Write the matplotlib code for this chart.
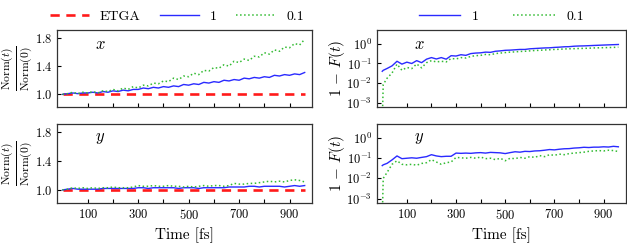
import numpy as np
import matplotlib
matplotlib.use('Agg')
import matplotlib.pyplot as plt
from matplotlib.ticker import FixedLocator, NullLocator

plt.rcParams['font.family'] = 'serif'
plt.rcParams['font.serif'] = ['cmr10', 'DejaVu Serif']
plt.rcParams['mathtext.fontset'] = 'cm'
plt.rcParams['axes.unicode_minus'] = False
plt.rcParams['axes.formatter.use_mathtext'] = True

# time grids [fs]
t = np.arange(0, 980, 20)
t_fid = np.concatenate([[0, 4], np.arange(20, 980, 20)])

# norm ratio, x polarisation
etga_x = [1.0] * len(t)
norm_x_1 = [1.00, 1.01, 1.02, 1.01, 1.02, 1.02, 1.03, 1.02, 1.04, 1.03,
            1.05, 1.04, 1.06, 1.05, 1.07, 1.07, 1.09, 1.08, 1.10, 1.09,
            1.11, 1.10, 1.12, 1.11, 1.14, 1.13, 1.15, 1.14, 1.17, 1.16,
            1.18, 1.17, 1.20, 1.19, 1.21, 1.20, 1.23, 1.22, 1.24, 1.23,
            1.25, 1.24, 1.27, 1.26, 1.28, 1.27, 1.29, 1.28, 1.31]
norm_x_01 = [1.00, 1.01, 1.03, 1.01, 1.03, 1.02, 1.04, 1.02, 1.05, 1.04,
             1.07, 1.05, 1.09, 1.07, 1.11, 1.09, 1.13, 1.12, 1.16, 1.15,
             1.19, 1.18, 1.23, 1.21, 1.26, 1.25, 1.30, 1.28, 1.34, 1.33,
             1.38, 1.37, 1.42, 1.40, 1.47, 1.45, 1.50, 1.48, 1.54, 1.53,
             1.59, 1.57, 1.63, 1.61, 1.67, 1.66, 1.72, 1.70, 1.78]

# norm ratio, y polarisation
etga_y = [1.0] * len(t)
norm_y_1 = [1.00, 1.01, 1.02, 1.01, 1.01, 1.01, 1.01, 1.01, 1.02, 1.02,
            1.02, 1.02, 1.02, 1.02, 1.02, 1.03, 1.03, 1.02, 1.03, 1.03,
            1.03, 1.03, 1.03, 1.02, 1.03, 1.03, 1.03, 1.02, 1.03, 1.03,
            1.03, 1.03, 1.03, 1.04, 1.04, 1.04, 1.04, 1.05, 1.05, 1.04,
            1.05, 1.05, 1.05, 1.05, 1.04, 1.05, 1.06, 1.05, 1.06]
norm_y_01 = [1.00, 1.01, 1.03, 1.02, 1.03, 1.02, 1.03, 1.02, 1.03, 1.03,
             1.04, 1.03, 1.03, 1.03, 1.04, 1.06, 1.05, 1.05, 1.06, 1.05,
             1.05, 1.06, 1.05, 1.05, 1.04, 1.05, 1.04, 1.05, 1.06, 1.05,
             1.06, 1.06, 1.05, 1.06, 1.09, 1.08, 1.08, 1.09, 1.09, 1.10,
             1.11, 1.12, 1.11, 1.12, 1.11, 1.13, 1.14, 1.13, 1.11]

# infidelity 1 - F(t)
inf_x_1 = [0.040, 0.045, 0.056, 0.076, 0.13, 0.093, 0.117, 0.10, 0.14, 0.11,
           0.166, 0.20, 0.17, 0.20, 0.166, 0.25, 0.24, 0.28, 0.26, 0.32,
           0.34, 0.35, 0.38, 0.37, 0.42, 0.44, 0.47, 0.48, 0.50, 0.52,
           0.52, 0.56, 0.58, 0.60, 0.62, 0.63, 0.66, 0.68, 0.71, 0.72,
           0.76, 0.78, 0.79, 0.81, 0.83, 0.85, 0.87, 0.89, 0.91, 0.93]
inf_x_01 = [1e-4, 0.0085, 0.018, 0.033, 0.093, 0.045, 0.063, 0.055, 0.095, 0.06,
            0.11, 0.14, 0.12, 0.13, 0.12, 0.18, 0.17, 0.20, 0.19, 0.23,
            0.25, 0.26, 0.29, 0.28, 0.32, 0.34, 0.36, 0.38, 0.39, 0.41,
            0.42, 0.44, 0.46, 0.47, 0.49, 0.50, 0.52, 0.53, 0.55, 0.56,
            0.57, 0.58, 0.59, 0.60, 0.62, 0.63, 0.64, 0.65, 0.66, 0.68]
inf_y_1 = [0.043, 0.047, 0.056, 0.083, 0.13, 0.095, 0.10, 0.105, 0.10, 0.11,
           0.12, 0.15, 0.13, 0.12, 0.125, 0.125, 0.18, 0.175, 0.18, 0.175,
           0.185, 0.19, 0.18, 0.195, 0.19, 0.185, 0.17, 0.19, 0.21, 0.20,
           0.22, 0.215, 0.23, 0.235, 0.25, 0.27, 0.26, 0.28, 0.295, 0.30,
           0.32, 0.33, 0.35, 0.34, 0.355, 0.355, 0.37, 0.36, 0.39, 0.37]
inf_y_01 = [1e-4, 0.01, 0.02, 0.05, 0.075, 0.05, 0.047, 0.05, 0.045, 0.055,
            0.06, 0.085, 0.065, 0.05, 0.06, 0.065, 0.11, 0.105, 0.10, 0.11,
            0.10, 0.115, 0.095, 0.10, 0.085, 0.10, 0.075, 0.10, 0.095, 0.11,
            0.10, 0.12, 0.11, 0.135, 0.12, 0.15, 0.14, 0.16, 0.15, 0.17,
            0.18, 0.19, 0.20, 0.22, 0.23, 0.24, 0.23, 0.25, 0.24, 0.215]

red = '#ff1a1a'
blue = '#2a2aff'
green = '#33bb33'

fig = plt.figure(figsize=(6.27, 2.49), dpi=100)
ax_lt = fig.add_axes([0.091, 0.570, 0.407, 0.309])
ax_lb = fig.add_axes([0.091, 0.185, 0.407, 0.317])
ax_rt = fig.add_axes([0.601, 0.570, 0.397, 0.309])
ax_rb = fig.add_axes([0.601, 0.185, 0.397, 0.317])

ax_lt.plot(t, etga_x, color=red, ls=(0, (3.5, 2.5)), lw=1.9, label='ETGA')
ax_lt.plot(t, norm_x_1, color=blue, lw=1.0, label='1')
ax_lt.plot(t, norm_x_01, color=green, ls=':', lw=1.1, label='0.1')
ax_lb.plot(t, etga_y, color=red, ls=(0, (3.5, 2.5)), lw=1.9)
ax_lb.plot(t, norm_y_1, color=blue, lw=1.0)
ax_lb.plot(t, norm_y_01, color=green, ls=':', lw=1.1)

ax_rt.plot(t_fid, inf_x_1, color=blue, lw=1.0, label='1')
ax_rt.plot(t_fid, inf_x_01, color=green, ls=':', lw=1.1, label='0.1')
ax_rb.plot(t_fid, inf_y_1, color=blue, lw=1.0)
ax_rb.plot(t_fid, inf_y_01, color=green, ls=':', lw=1.1)

for ax in (ax_lt, ax_lb):
    ax.set_ylim(0.82, 1.91)
    ax.set_yticks([1.0, 1.4, 1.8])
    ax.set_ylabel(r'$\frac{\mathrm{Norm}(t)}{\mathrm{Norm}(0)}$', fontsize=12)
    ax.yaxis.set_label_coords(-0.085, 0.5)

for ax in (ax_rt, ax_rb):
    ax.set_yscale('log')
    ax.set_ylim(10**-3.22, 10**0.7)
    ax.set_yticks([1e-3, 1e-2, 1e-1, 1e0])
    ax.yaxis.set_minor_locator(NullLocator())
    ax.set_ylabel(r'$1\,-\,F(t)$', fontsize=11)
    ax.yaxis.set_label_coords(-0.12, 0.5)

for ax in (ax_lt, ax_lb, ax_rt, ax_rb):
    ax.set_xlim(-22, 990)
    ax.set_xticks([100, 300, 500, 700, 900])
    ax.xaxis.set_minor_locator(FixedLocator([200, 400, 600, 800]))
    ax.tick_params(direction='in', labelsize=9, length=3, width=0.8)
    ax.tick_params(which='minor', direction='in', length=3, width=0.8)
    for s in ax.spines.values():
        s.set_color('#333333')
        s.set_linewidth(0.9)

for ax in (ax_lt, ax_rt):
    ax.tick_params(labelbottom=False)
    ax.text(0.15, 0.82, r'$x$', transform=ax.transAxes, fontsize=12, va='center')
for ax in (ax_lb, ax_rb):
    ax.set_xlabel('Time [fs]', fontsize=11)
    ax.text(0.15, 0.82, r'$y$', transform=ax.transAxes, fontsize=12, va='center')

ax_lt.legend(loc='lower center', bbox_to_anchor=(0.47, 0.98), ncol=3, frameon=False,
             fontsize=10, handlelength=2.8, columnspacing=1.4, borderaxespad=0.2)
ax_rt.legend(loc='lower center', bbox_to_anchor=(0.5, 0.98), ncol=2, frameon=False,
             fontsize=10, handlelength=3.0, columnspacing=2.5, borderaxespad=0.2)

fig.savefig('out.png', dpi=100)
